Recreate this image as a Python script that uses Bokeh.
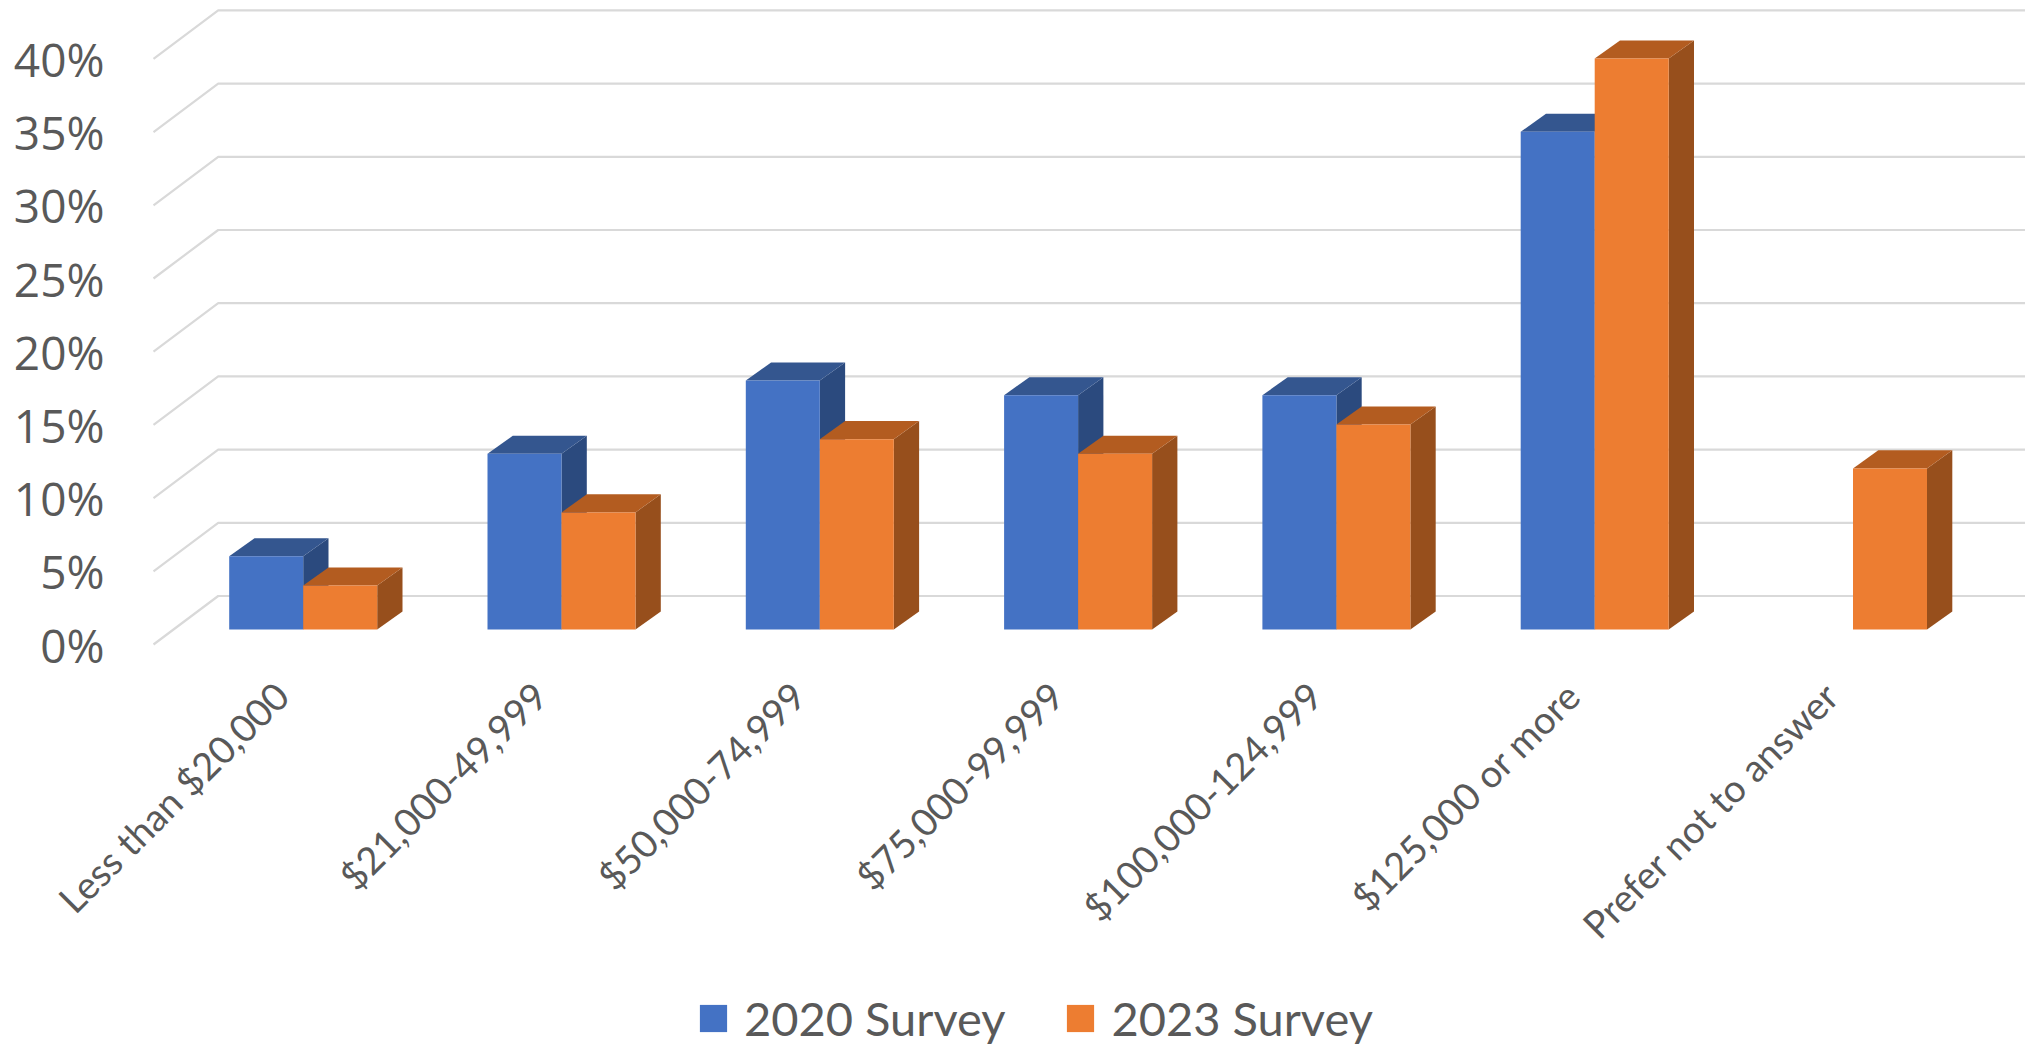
from bokeh.plotting import figure
from bokeh.models import Range1d, FixedTicker, PrintfTickFormatter, Legend, LegendItem
from bokeh.embed import file_html
from bokeh.resources import INLINE
import math

categories = ["Less than $20,000", "$21,000-49,999", "$50,000-74,999", "$75,000-99,999",
              "$100,000-124,999", "$125,000 or more", "Prefer not to answer"]
survey_2020 = [5, 12, 17, 16, 16, 34, None]
survey_2023 = [3, 8, 13, 12, 14, 39, 11]
y_ticks = [0, 5, 10, 15, 20, 25, 30, 35, 40]

W, H = 2025, 1048
WALL_PX = 153                 # pixels from the canvas's left edge to the gridlines' front end
PX_X, PX_Y = 258.3, 14.64
BASE_BELOW = H - 629          # pixels below the bars' floor line
GROUP0 = 149.7
wall_x = -GROUP0 / PX_X
x_start = wall_x - WALL_PX / PX_X
x_end = x_start + W / PX_X
BAR_W = 74 / PX_X
DX, DY = 25.3 / PX_X, 18.1 / PX_Y          # bar depth
GDX = 64.7 / PX_X                           # wall depth for the gridlines
FRONT_DROP, BACK_RISE = 15.0 / PX_Y, 33.5 / PX_Y
LABEL_SHIFT = 22 / PX_X

y_start = -BASE_BELOW / PX_Y
y_end = y_start + H / PX_Y

p = figure(width=W, height=H, output_backend="svg", toolbar_location=None,
           x_range=Range1d(x_start, x_end), y_range=Range1d(y_start, y_end),
           min_border_left=0, min_border_right=0, min_border_top=0, min_border_bottom=0)
p.extra_y_ranges = {"front": Range1d(y_start + FRONT_DROP, y_end + FRONT_DROP)}
p.extra_x_ranges = {"labels": Range1d(x_start + LABEL_SHIFT, x_end + LABEL_SHIFT)}
p.outline_line_color = None
p.grid.visible = False

# gridlines: floor diagonal, then along the back wall
for t in y_ticks:
    p.line([wall_x, wall_x + GDX, x_end],
           [t - FRONT_DROP, t + BACK_RISE, t + BACK_RISE],
           line_color="#D9D9D9", line_width=2.2)

def series(values, offset, front, top, side):
    xs, ys = [], []
    for i, v in enumerate(values):
        if v is not None:
            xs.append(i + offset)
            ys.append(v)
    tx = [[x - BAR_W / 2, x + BAR_W / 2, x + BAR_W / 2 + DX, x - BAR_W / 2 + DX] for x in xs]
    ty = [[v, v, v + DY, v + DY] for v in ys]
    sx = [[x + BAR_W / 2, x + BAR_W / 2 + DX, x + BAR_W / 2 + DX, x + BAR_W / 2] for x in xs]
    sy = [[0, DY, v + DY, v] for v in ys]
    p.patches(sx, sy, fill_color=side, line_color=None)
    p.patches(tx, ty, fill_color=top, line_color=None)
    return p.vbar(x=xs, top=ys, bottom=0, width=BAR_W, fill_color=front, line_color=None)

r20 = series(survey_2020, -BAR_W / 2, "#4472C4", "#34568F", "#2B4A7E")
r23 = series(survey_2023, BAR_W / 2, "#ED7D31", "#B35C20", "#974F1C")

ya = p.yaxis[0]
ya.y_range_name = "front"
ya.fixed_location = wall_x
ya.ticker = FixedTicker(ticks=y_ticks)
ya.formatter = PrintfTickFormatter(format="%d%%")
ya.axis_line_color = None
ya.major_tick_line_color = None
ya.minor_tick_line_color = None
ya.major_label_standoff = 43
ya.major_label_text_font = "Open Sans"
ya.major_label_text_font_size = "46px"
ya.major_label_text_color = "#595959"

xa = p.xaxis[0]
xa.x_range_name = "labels"
xa.fixed_location = -FRONT_DROP
xa.ticker = FixedTicker(ticks=list(range(len(categories))))
xa.major_label_overrides = {i: c for i, c in enumerate(categories)}
xa.axis_line_color = None
xa.major_tick_line_color = None
xa.minor_tick_line_color = None
xa.major_label_orientation = math.pi / 4
xa.major_label_standoff = 38
xa.major_label_text_font = "Lato"
xa.major_label_text_font_size = "38px"
xa.major_label_text_color = "#595959"

legend = Legend(items=[LegendItem(label="2020 Survey", renderers=[r20]),
                       LegendItem(label="2023 Survey", renderers=[r23])],
                orientation="horizontal", location=(696, 2),
                glyph_width=34, glyph_height=34, label_standoff=14, spacing=58,
                padding=0, margin=0, border_line_color=None, background_fill_alpha=0,
                label_text_font="Lato", label_text_font_size="47px", label_text_color="#595959")
p.add_layout(legend, "center")

open("out.html", "w").write(file_html(p, INLINE))
